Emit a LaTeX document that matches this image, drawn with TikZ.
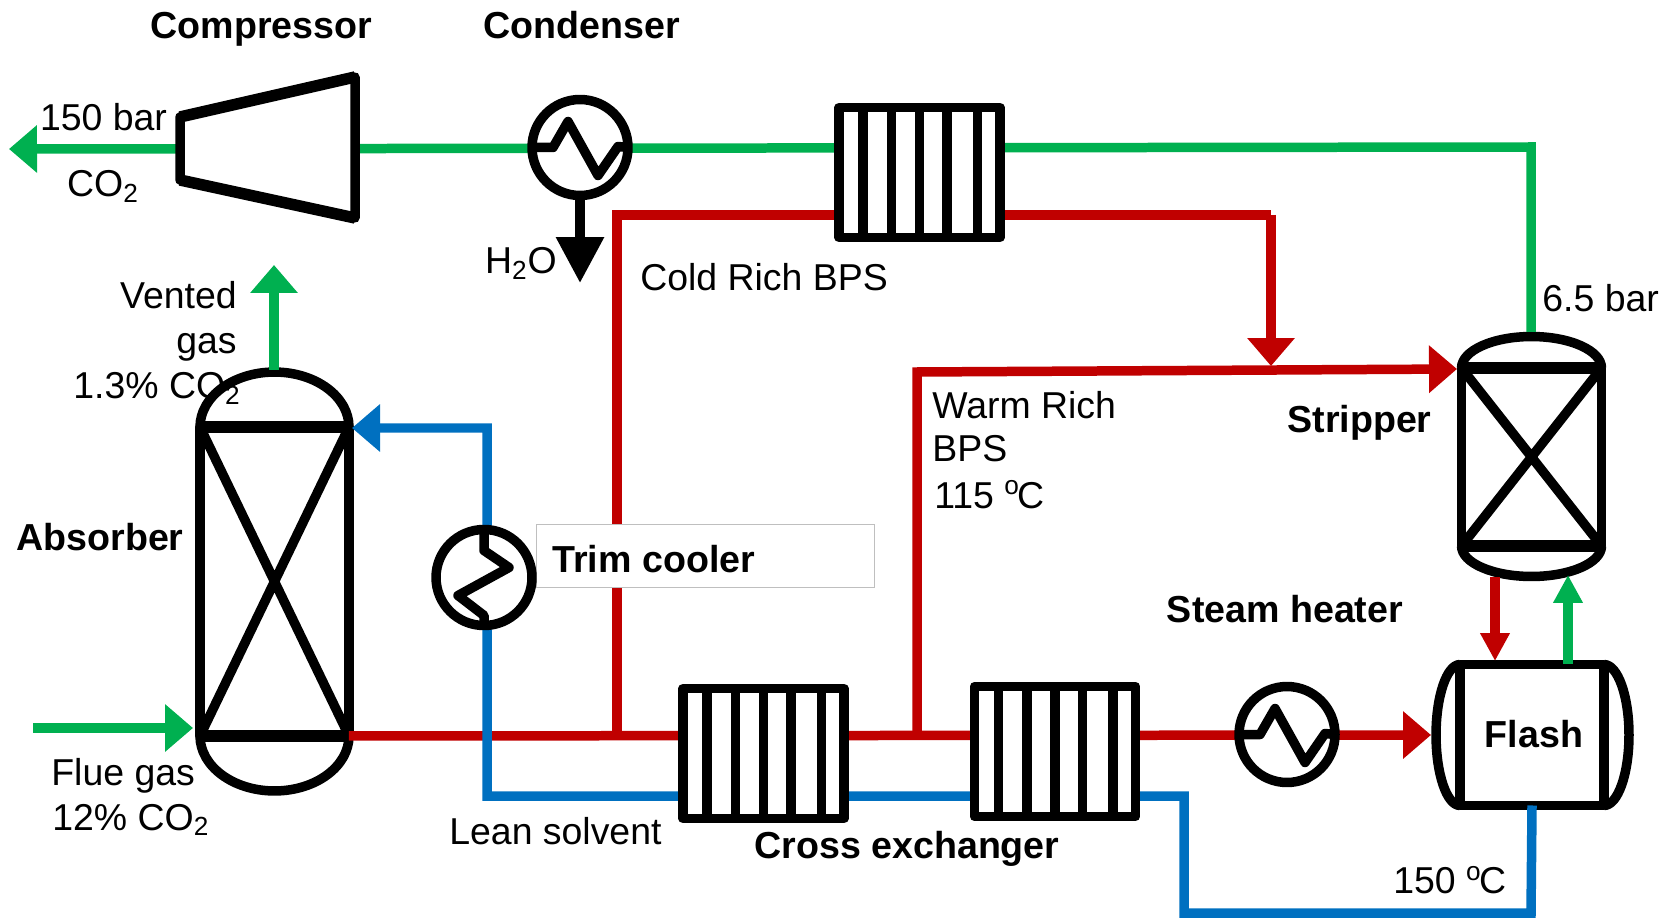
\documentclass[tikz,border=0pt]{standalone}
\usepackage{fontspec}
\setmainfont{Liberation Sans}
\usetikzlibrary{arrows.meta,calc}
\definecolor{co2green}{HTML}{00B050}
\definecolor{richred}{HTML}{C00000}
\definecolor{leanblue}{HTML}{0070C0}
\definecolor{boxgray}{HTML}{BFBFBF}
\tikzset{
	eqline/.style={line width=.19cm, line join=round},
	eqbar/.style={line width=.23cm},
	column/.style={rectangle, draw, eqline, inner sep=0, outer sep=0, minimum width=#1},
	hxbox/.style={rectangle, draw, fill=white, eqline, inner sep=0, outer sep=0, minimum width=3.22cm, minimum height=2.6cm},
	hxcircle/.style={circle, draw, fill=white, eqline, inner sep=0, outer sep=0, minimum size=1.92cm},
	trimbox/.style={rectangle, draw=boxgray, fill=white, line width=.02cm, inner sep=0, minimum width=6.78cm, minimum height=1.28cm},
	greenline/.style={draw=co2green, line width=.19cm, line join=miter},
	redline/.style={draw=richred, line width=.19cm, line join=miter},
	blueline/.style={draw=leanblue, line width=.19cm, line join=miter},
	lbl/.style={inner sep=0, yshift=-.04cm, font=\fontsize{21.3}{25}\selectfont},
	eqlbl/.style={lbl, font=\fontsize{21.4}{25}\selectfont\bfseries},
}
\begin{document}
\begin{tikzpicture}[x=.02cm, y=-.02cm, >={Triangle[length=.56cm, width=.92cm]}]
	\useasboundingbox (0, 0) rectangle (1665, 918);
	\coordinate (co2end) at (9, 149);
	\coordinate (greencorner) at (1531, 147);
	\coordinate (striptop) at (1531, 332);
	\coordinate (stripout) at (1495, 577);
	\coordinate (flashtop) at (1495, 661);
	\coordinate (flashout) at (1568, 664);
	\coordinate (stripback) at (1568, 575);
	\coordinate (abstop) at (274, 370);
	\coordinate (ventend) at (274, 265);
	\coordinate (fluein) at (33, 728);
	\coordinate (flueend) at (193, 728);
	\coordinate (h2oend) at (580, 283);
	\coordinate (coldtee) at (617, 736);
	\coordinate (coldcorner) at (617, 215);
	\coordinate (coldturn) at (1271, 215);
	\coordinate (coldend) at (1271, 366);
	\coordinate (warmtee) at (917, 736);
	\coordinate (warmcorner) at (917, 372);
	\coordinate (warmend) at (1457, 369);
	\coordinate (flashin) at (1431, 735);
	\coordinate (leana) at (1531, 913);
	\coordinate (leanb) at (1184, 913);
	\coordinate (leanc) at (1184, 796);
	\coordinate (leand) at (487, 796);
	\coordinate (leane) at (487, 428);
	\coordinate (leanend) at (352, 428);

	\node [column=2.98cm, minimum height=6.18cm] (abs) at (274.5, 581.5) {};
	\draw [eqline] (abs.north west) arc [start angle=180, end angle=0, x radius=1.49cm, y radius=1.1cm];
	\draw [eqline] (abs.south west) arc [start angle=180, end angle=360, x radius=1.49cm, y radius=1.1cm];
	\draw [eqbar] (abs.north west) -- (abs.north east) (abs.south west) -- (abs.south east);
	\draw [eqline] (abs.north west) -- (abs.south east) (abs.north east) -- (abs.south west);

	\node [column=2.8cm, minimum height=3.56cm] (strip) at (1531.5, 457) {};
	\draw [eqline] (strip.north west) arc [start angle=180, end angle=0, x radius=1.4cm, y radius=.63cm];
	\draw [eqline] (strip.south west) arc [start angle=180, end angle=360, x radius=1.4cm, y radius=.61cm];
	\draw [eqbar] (strip.north west) -- (strip.north east) (strip.south west) -- (strip.south east);
	\draw [eqline] (strip.north west) -- (strip.south east) (strip.north east) -- (strip.south west);

	\node [column=2.88cm, minimum height=2.82cm] (flash) at (1532, 735) {};
	\draw [eqline] (flash.north west) arc [start angle=90, end angle=270, x radius=.48cm, y radius=1.41cm];
	\draw [eqline] (flash.north east) arc [start angle=90, end angle=-90, x radius=.5cm, y radius=1.41cm];

	\draw [redline, ->] (abs.south east) -- (flashin);
	\draw [redline] (coldtee) -- (coldcorner) -- (coldturn);
	\draw [redline, ->] (coldturn) -- (coldend);
	\draw [redline, ->] (warmtee) -- (warmcorner) -- (warmend);
	\draw [redline, -{Triangle[length=.56cm, width=.56cm]}] (stripout) -- (flashtop);
	\draw [blueline, ->] (flash.south) -- (leana) -- (leanb) -- (leanc) -- (leand) -- (leane) -- (leanend);
	\draw [greenline, ->] (striptop) -- (greencorner) -- (co2end);
	\draw [greenline, ->] (abstop) -- (ventend);
	\draw [greenline, ->] (fluein) -- (flueend);
	\draw [greenline, -{Triangle[length=.56cm, width=.56cm]}] (flashout) -- (stripback);
	\draw [line width=.19cm, -{Triangle[length=.92cm, width=.92cm]}] (580, 200) -- (h2oend);

	\node [trimbox] (trimlabel) at (705.5, 556) {};
	\node [hxbox] (hxtop) at (919.5, 172.5) {};
	\node [hxbox] (hxleft) at (763.5, 753.5) {};
	\node [hxbox] (hxright) at (1055, 751.5) {};
	\foreach \n in {hxtop, hxleft, hxright} \foreach \f in {.15, .325, .5, .67, .86}
	  \draw [eqline] ($(\n.north west)!\f!(\n.north east)$) -- ($(\n.south west)!\f!(\n.south east)$);
	\node [hxcircle] (cond) at (580, 147.5) {};
	\node [hxcircle] (heater) at (1287, 734.5) {};
	\node [hxcircle] (trim) at (484, 577.5) {};
	\foreach \n in {cond, heater}
	  \draw [eqline] (\n.west) -- ++(21, 0) -- ++(15, -26) -- ++(30, 54) -- ++(20, -29) -- (\n.east);
	\draw [eqline] (trim.north) -- ++(0, 21) -- ++(25, 17) -- ++(-51, 28) -- ++(26, 20) -- (trim.south);
	\draw [eqline, fill=white] (180, 117) -- (355, 77) -- (355, 218) -- (180, 180) -- cycle;
	\draw [eqbar] (180, 117) -- (355, 77) (180, 180) -- (355, 218);

	\node [eqlbl, anchor=base] (compname) at (261.5, 36.7) {Compressor};
	\node [eqlbl, anchor=base] (condname) at (581.5, 36.7) {Condenser};
	\node [lbl, anchor=base] (co2p) at (103.5, 129) {150 bar};
	\node [lbl, anchor=base] (co2name) at (103, 195) {CO\textsubscript{2}};
	\node [lbl, anchor=base] (h2oname) at (521, 272) {H\textsubscript{2}O};
	\node [lbl, anchor=base west] (coldname) at (640, 289) {Cold Rich BPS};
	\node [lbl, anchor=base east] (venta) at (237, 307) {Vented};
	\node [lbl, anchor=base east] (ventb) at (237, 352) {gas};
	\node [lbl, anchor=base west] (ventc) at (73, 397) {1.3\% CO\textsubscript{2}};
	\node [lbl, anchor=base west] (warma) at (932, 417) {Warm Rich};
	\node [lbl, anchor=base west] (warmb) at (932, 460) {BPS};
	\node [lbl, anchor=base west] (warmc) at (934, 506) {115 \textsuperscript{o}\kern-1.5pt C};
	\node [eqlbl, anchor=base] (stripname) at (1359.5, 430) {Stripper};
	\node [lbl, anchor=base west] (strippres) at (1542, 310) {6.5 bar};
	\node [eqlbl, anchor=base] (absname) at (100, 548) {Absorber};
	\node [eqlbl, anchor=base west] (trimname) at (552, 570) {Trim cooler};
	\node [lbl, anchor=base west] (fluea) at (51, 783) {Flue gas};
	\node [lbl, anchor=base west] (flueb) at (52, 828) {12\% CO\textsubscript{2}};
	\node [lbl, anchor=base west] (leanname) at (449, 842) {Lean solvent};
	\node [eqlbl, anchor=base] (crossname) at (907, 856) {Cross exchanger};
	\node [eqlbl, anchor=base] (heatername) at (1285, 620.7) {Steam heater};
	\node [eqlbl, anchor=base] (flashname) at (1534, 745.7) {Flash};
	\node [lbl, anchor=base west] (flashtemp) at (1393, 891.7) {150 \textsuperscript{o}\kern-1.5pt C};
\end{tikzpicture}
\end{document}
